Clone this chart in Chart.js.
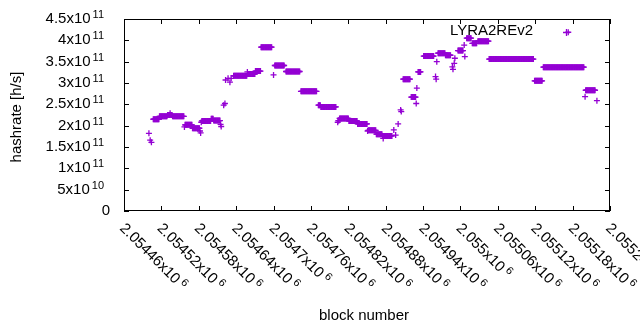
<!DOCTYPE html>
<html>
<head>
<meta charset="utf-8">
<script src="https://cdn.jsdelivr.net/npm/chart.js@4/dist/chart.umd.min.js"></script>
<style>html,body{margin:0;padding:0;background:#fff}</style>
</head>
<body>
<canvas id="hashChart" width="640" height="330"></canvas>
<script>
// Serie
const seriesName = "LYRA2REv2";

// Tramos de bloques consecutivos con el mismo hashrate: inicio, fin, valor [h/s]
const runStart = [2054500, 2054502, 2054504, 2054507, 2054517, 2054530, 2054534, 2054535, 2054538, 2054557,
                  2054558, 2054570, 2054582, 2054583, 2054584, 2054585, 2054600, 2054604, 2054615, 2054616,
                  2054620, 2054622, 2054623, 2054627, 2054630, 2054632, 2054636, 2054658, 2054659, 2054671,
                  2054680, 2054700, 2054702, 2054720, 2054744, 2054772, 2054776, 2054803, 2054804, 2054806,
                  2054821, 2054835, 2054851, 2054852, 2054865, 2054875, 2054876, 2054877, 2054893, 2054896,
                  2054900, 2054904, 2054905, 2054908, 2054921, 2054929, 2054930, 2054932, 2054941, 2054960,
                  2054961, 2054962, 2054964, 2054976, 2054987, 2054988, 2054990, 2054991, 2054996, 2055006,
                  2055007, 2055010, 2055019, 2055028, 2055046, 2055119, 2055133, 2055173, 2055200, 2055201,
                  2055219];
const runEnd   = [2054500, 2054502, 2054504, 2054516, 2054529, 2054533, 2054534, 2054537, 2054556, 2054557,
                  2054569, 2054581, 2054582, 2054583, 2054584, 2054599, 2054603, 2054614, 2054615, 2054616,
                  2054620, 2054622, 2054623, 2054627, 2054630, 2054632, 2054657, 2054658, 2054670, 2054679,
                  2054697, 2054700, 2054717, 2054742, 2054769, 2054775, 2054800, 2054803, 2054805, 2054820,
                  2054834, 2054850, 2054851, 2054864, 2054874, 2054875, 2054876, 2054890, 2054893, 2054896,
                  2054900, 2054904, 2054905, 2054919, 2054928, 2054929, 2054930, 2054936, 2054957, 2054960,
                  2054961, 2054962, 2054975, 2054984, 2054987, 2054988, 2054990, 2054991, 2055004, 2055006,
                  2055007, 2055017, 2055026, 2055045, 2055117, 2055131, 2055198, 2055173, 2055200, 2055216,
                  2055219];
const runValue = [1.82e11, 1.66e11, 1.61e11, 2.15e11, 2.22e11, 2.25e11, 2.29e11, 2.25e11, 2.22e11, 1.97e11,
                  2.02e11, 1.94e11, 1.875e11, 1.83e11, 2.08e11, 2.11e11, 2.16e11, 2.12e11, 2.03e11, 1.98e11,
                  2.48e11, 2.52e11, 3.07e11, 3.11e11, 3.02e11, 3.11e11, 3.17e11, 3.26e11, 3.21e11, 3.28e11,
                  3.84e11, 3.19e11, 3.41e11, 3.27e11, 2.805e11, 2.48e11, 2.44e11, 2.08e11, 2.12e11, 2.17e11,
                  2.11e11, 2.04e11, 1.875e11, 1.89e11, 1.80e11, 1.76e11, 1.70e11, 1.76e11, 1.90e11, 1.78e11,
                  2.04e11, 2.37e11, 2.33e11, 3.09e11, 2.67e11, 2.52e11, 2.88e11, 3.26e11, 3.63e11, 3.15e11,
                  3.09e11, 3.50e11, 3.70e11, 3.65e11, 3.38e11, 3.32e11, 3.46e11, 3.58e11, 3.76e11, 3.89e11,
                  3.62e11, 4.05e11, 3.93e11, 3.98e11, 3.56e11, 3.05e11, 3.37e11, 4.19e11, 2.68e11, 2.83e11,
                  2.585e11];

// Marcas de los ejes
const xTicks = [2054460, 2054520, 2054580, 2054640, 2054700, 2054760, 2054820, 2054880, 2054940, 2055000,
                2055060, 2055120, 2055180, 2055240];
const xTickBase = ["2.05446", "2.05452", "2.05458", "2.05464", "2.0547", "2.05476", "2.05482", "2.05488",
                   "2.05494", "2.055", "2.05506", "2.05512", "2.05518", "2.05524"];
const xTickExp = "6";
const yTicks = [0, 5e10, 1e11, 1.5e11, 2e11, 2.5e11, 3e11, 3.5e11, 4e11, 4.5e11];
const yTickBase = ["0", "5", "1", "1.5", "2", "2.5", "3", "3.5", "4", "4.5"];
const yTickExp = ["", "10", "11", "11", "11", "11", "11", "11", "11", "11"];

const puntos = [];
runStart.forEach((s, i) => {
    for (let b = s; b <= runEnd[i]; b++) puntos.push({ x: b, y: runValue[i] });
});

const color = "#9400D3";
const F = '15px "Liberation Sans", Arial, sans-serif';
const FS = '11px "Liberation Sans", Arial, sans-serif';

// Marco, marcas y textos al estilo gnuplot
const marco = {
    id: "marco",
    beforeDatasetsDraw(chart) {
        const { ctx, chartArea: a, scales: { x, y } } = chart;
        ctx.save();
        ctx.strokeStyle = "#000";
        ctx.lineWidth = 1;
        ctx.strokeRect(a.left + 0.5, a.top + 0.5, a.right - a.left - 1, a.bottom - a.top - 1);
        ctx.beginPath();
        xTicks.forEach(v => {
            const px = Math.round(x.getPixelForValue(v)) + 0.5;
            ctx.moveTo(px, a.bottom); ctx.lineTo(px, a.bottom - 5);
            ctx.moveTo(px, a.top); ctx.lineTo(px, a.top + 5);
        });
        yTicks.forEach(v => {
            const py = Math.round(y.getPixelForValue(v)) + 0.5;
            ctx.moveTo(a.left, py); ctx.lineTo(a.left + 5, py);
            ctx.moveTo(a.right, py); ctx.lineTo(a.right - 5, py);
        });
        ctx.stroke();

        ctx.fillStyle = "#000";
        ctx.textBaseline = "middle";
        // eje y
        yTicks.forEach((v, i) => {
            const py = y.getPixelForValue(v);
            if (yTickExp[i]) {
                ctx.font = FS;
                const we = ctx.measureText(yTickExp[i]).width;
                ctx.textAlign = "left";
                ctx.fillText(yTickExp[i], 104 - we, py - 4);
                ctx.font = F;
                ctx.textAlign = "right";
                ctx.fillText(yTickBase[i] + "x10", 104 - we - 2, py);
            } else {
                ctx.font = F;
                ctx.textAlign = "right";
                ctx.fillText(yTickBase[i], 110, py);
            }
        });
        // eje x, rotado
        xTicks.forEach((v, i) => {
            const px = x.getPixelForValue(v);
            ctx.save();
            ctx.translate(px - 2, 226);
            ctx.rotate(Math.PI / 4);
            ctx.textAlign = "left";
            ctx.font = F;
            const wb = ctx.measureText(xTickBase[i] + "x10").width;
            ctx.fillText(xTickBase[i] + "x10", 0, 0);
            ctx.font = FS;
            ctx.fillText(xTickExp, wb + 3, -4);
            ctx.restore();
        });
        // títulos
        ctx.font = F;
        ctx.textAlign = "center";
        ctx.fillText("block number", 364, 316);
        ctx.save();
        ctx.translate(17, 117);
        ctx.rotate(-Math.PI / 2);
        ctx.fillText("hashrate [h/s]", 0, 0);
        ctx.restore();
        // leyenda
        ctx.textAlign = "right";
        ctx.fillText(seriesName, 533, 31);
        ctx.strokeStyle = color;
        ctx.lineWidth = 1.3;
        ctx.beginPath();
        ctx.moveTo(563, 32.5); ctx.lineTo(570, 32.5);
        ctx.moveTo(566.5, 29); ctx.lineTo(566.5, 36);
        ctx.stroke();
        ctx.restore();
    }
};

new Chart(document.getElementById("hashChart").getContext("2d"), {
    type: "scatter",
    data: {
        datasets: [{
            label: seriesName,
            data: puntos,
            pointStyle: "cross",
            pointRadius: 3,
            borderColor: color,
            backgroundColor: color,
            borderWidth: 1.3
        }]
    },
    options: {
        responsive: false,
        animation: false,
        devicePixelRatio: 1,
        layout: { padding: { left: 124, right: 30, top: 19, bottom: 119 } },
        plugins: { legend: { display: false }, tooltip: { enabled: false } },
        scales: {
            x: { type: "linear", min: 2054460, max: 2055240, display: false },
            y: { min: 0, max: 4.5e11, display: false }
        }
    },
    plugins: [marco]
});
</script>
</body>
</html>
